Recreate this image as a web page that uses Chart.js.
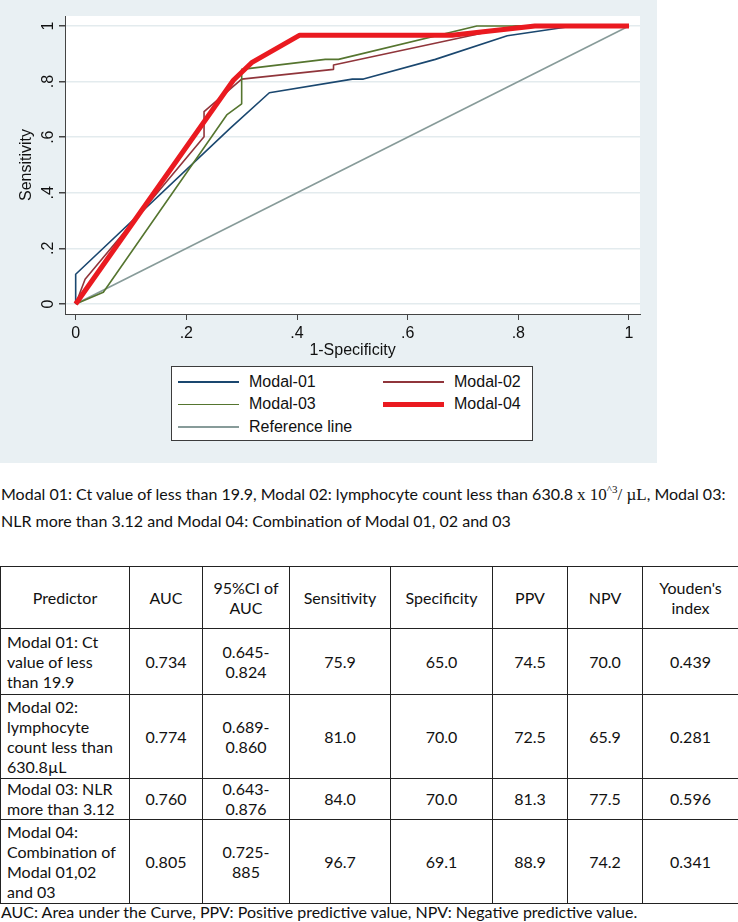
<!DOCTYPE html>
<html>
<head>
<meta charset="utf-8">
<script src="https://cdn.jsdelivr.net/npm/chart.js@4.4.0/dist/chart.umd.min.js"></script>
<style>
  body { margin: 0; background: #fff; width: 738px; height: 922px; position: relative; overflow: hidden; color: #111; }
  #rocChart { position: absolute; left: 0; top: 0; background: #e9f0f3; }
  #legend {
    position: absolute; left: 171px; top: 366px; width: 362px; height: 75px;
    box-sizing: border-box; background: #fff; border: 1px solid #3c3c3c;
    padding-top: 4px; display: grid; grid-template-columns: 205px 1fr; grid-auto-rows: 22.3px;
    font-family: "Liberation Sans", Arial, sans-serif; font-size: 16px;
  }
  .item { display: flex; align-items: center; white-space: nowrap; }
  .swatch { width: 61px; margin: 0 10px 0 6px; }
  .doc { font-family: Lato, "Open Sans", sans-serif; font-size: 16px; }
  #caption { position: absolute; left: 1px; top: 476px; line-height: 26px; white-space: nowrap; }
  .math { font-family: "Liberation Serif", serif; font-size: 17px; }
  .math sup { font-size: 11px; }
  #stats { position: absolute; left: 0; top: 566px; width: 738px; border-collapse: collapse; table-layout: fixed; }
  #stats td, #stats th { border: 1px solid #222; padding: 0 6px; line-height: 20px; text-align: center; font-weight: normal; vertical-align: middle; }
  #stats td:first-child { text-align: left; }
  #footnote { position: absolute; left: 1px; top: 902px; line-height: 20px; white-space: nowrap; }
</style>
</head>
<body>
<canvas id="rocChart" width="657" height="463"></canvas>
<div id="legend"></div>

<div id="caption" class="doc">Modal 01: Ct value of less than 19.9, Modal 02: lymphocyte count less than 630.8 <span class="math">x 10<sup>^3</sup>/ &micro;L</span>, Modal 03:<br>NLR more than 3.12 and Modal 04: Combination of Modal 01, 02 and 03</div>

<table id="stats" class="doc">
  <colgroup>
    <col style="width:129px"><col style="width:73px"><col style="width:87px"><col style="width:101px">
    <col style="width:102px"><col style="width:75px"><col style="width:75px"><col style="width:96px">
  </colgroup>
  <tr style="height:62px"><th>Predictor</th><th>AUC</th><th>95%CI of<br>AUC</th><th>Sensitivity</th><th>Specificity</th><th>PPV</th><th>NPV</th><th>Youden's<br>index</th></tr>
  <tr style="height:66px"><td>Modal 01: Ct<br>value of less<br>than 19.9</td><td>0.734</td><td>0.645-<br>0.824</td><td>75.9</td><td>65.0</td><td>74.5</td><td>70.0</td><td>0.439</td></tr>
  <tr style="height:84px"><td>Modal 02:<br>lymphocyte<br>count less than<br>630.8&micro;L</td><td>0.774</td><td>0.689-<br>0.860</td><td>81.0</td><td>70.0</td><td>72.5</td><td>65.9</td><td>0.281</td></tr>
  <tr style="height:40px"><td>Modal 03: NLR<br>more than 3.12</td><td>0.760</td><td>0.643-<br>0.876</td><td>84.0</td><td>70.0</td><td>81.3</td><td>77.5</td><td>0.596</td></tr>
  <tr style="height:84px"><td>Modal 04:<br>Combination of<br>Modal 01,02<br>and 03</td><td>0.805</td><td>0.725-<br>885</td><td>96.7</td><td>69.1</td><td>88.9</td><td>74.2</td><td>0.341</td></tr>
</table>
<div id="footnote" class="doc">AUC: Area under the Curve, PPV: Positive predictive value, NPV: Negative predictive value.</div>

<script>
// ROC curve points (1-specificity, sensitivity)
const seriesNames = ['Modal-01', 'Modal-02', 'Modal-03', 'Modal-04', 'Reference line'];
const modal01X = [0, 0, 0.279, 0.35, 0.50, 0.52, 0.65, 0.78, 0.90, 1];
const modal01Y = [0, 0.107, 0.632, 0.76, 0.809, 0.809, 0.88, 0.965, 1, 1];
const modal02X = [0, 0.017, 0.232, 0.232, 0.30, 0.466, 0.466, 0.795, 1];
const modal02Y = [0, 0.089, 0.602, 0.692, 0.809, 0.844, 0.86, 1, 1];
const modal03X = [0, 0.05, 0.273, 0.30, 0.30, 0.451, 0.475, 0.725, 1];
const modal03Y = [0, 0.042, 0.68, 0.72, 0.844, 0.88, 0.88, 1, 1];
const modal04X = [0, 0.285, 0.318, 0.405, 0.68, 0.83, 1];
const modal04Y = [0, 0.805, 0.868, 0.967, 0.967, 1, 1];
const refX = [0, 1];
const refY = [0, 1];

const xTicks = [0, 0.2, 0.4, 0.6, 0.8, 1];
const xTickLabels = ['0', '.2', '.4', '.6', '.8', '1'];
const yTicks = [0, 0.2, 0.4, 0.6, 0.8, 1];
const yTickLabels = ['0', '.2', '.4', '.6', '.8', '1'];

const colors = ['#1a476f', '#90353b', '#55752f', '#ea1a20', '#879b99'];
const widths = [1.6, 1.6, 1.6, 5, 1.6];
const drawOrder = [2, 3, 1, 0, 4];

function points(xs, ys) {
  return xs.map((x, i) => ({ x: x, y: ys[i] }));
}
const allX = [modal01X, modal02X, modal03X, modal04X, refX];
const allY = [modal01Y, modal02Y, modal03Y, modal04Y, refY];

const axisFont = { family: '"Liberation Sans", Arial, sans-serif', size: 16 };

// fills the plot region white like Stata's plotregion
const plotBg = {
  id: 'plotBg',
  beforeDraw(chart) {
    const { ctx, chartArea: a } = chart;
    ctx.save();
    ctx.fillStyle = '#ffffff';
    ctx.fillRect(a.left, a.top, a.right - a.left, a.bottom - a.top);
    ctx.restore();
  }
};

// boxed two-column legend built from the chart's own legend items
const htmlLegend = {
  id: 'htmlLegend',
  afterUpdate(chart) {
    const box = document.getElementById('legend');
    box.innerHTML = '';
    const items = Chart.defaults.plugins.legend.labels.generateLabels(chart);
    items.sort((a, b) => a.datasetIndex - b.datasetIndex);
    items.forEach(item => {
      const row = document.createElement('div');
      row.className = 'item';
      const sw = document.createElement('span');
      sw.className = 'swatch';
      sw.style.height = item.lineWidth + 'px';
      sw.style.background = item.strokeStyle;
      const txt = document.createElement('span');
      txt.textContent = item.text;
      row.appendChild(sw);
      row.appendChild(txt);
      box.appendChild(row);
    });
  }
};

new Chart(document.getElementById('rocChart').getContext('2d'), {
  type: 'line',
  data: {
    datasets: seriesNames.map((name, i) => ({
      label: name,
      data: points(allX[i], allY[i]),
      borderColor: colors[i],
      backgroundColor: colors[i],
      borderWidth: widths[i],
      pointRadius: 0,
      tension: 0,
      fill: false,
      borderJoinStyle: 'round',
      order: drawOrder[i]
    }))
  },
  options: {
    responsive: false,
    animation: false,
    layout: { padding: { left: 0, top: 16, right: 17, bottom: 101 } },
    plugins: { legend: { display: false }, tooltip: { enabled: false } },
    scales: {
      x: {
        type: 'linear',
        min: -0.0193,
        max: 1.0199,
        afterBuildTicks: axis => { axis.ticks = xTicks.map(v => ({ value: v })); },
        afterFit: axis => { axis.height = 48; },
        ticks: { autoSkip: false, maxRotation: 0, padding: 4, color: '#111', font: axisFont,
                 callback: (v, i) => xTickLabels[i] },
        grid: { drawOnChartArea: false, tickLength: 6, tickColor: '#444', lineWidth: 1 },
        border: { display: true, color: '#444', width: 1 },
        title: { display: true, text: '1-Specificity', color: '#111', font: axisFont, padding: { top: 0, bottom: 2 } }
      },
      y: {
        type: 'linear',
        min: -0.036,
        max: 1.036,
        afterBuildTicks: axis => { axis.ticks = yTicks.map(v => ({ value: v })); },
        afterFit: axis => { axis.width = 65; },
        ticks: { autoSkip: false, minRotation: 90, maxRotation: 90, crossAlign: 'center', padding: 4,
                 color: '#111', font: axisFont, callback: (v, i) => yTickLabels[i] },
        grid: { color: '#e3ebee', lineWidth: 1.5, tickLength: 6, tickColor: '#444' },
        border: { display: true, color: '#444', width: 1 },
        title: { display: true, text: 'Sensitivity', color: '#111', font: axisFont, padding: { top: 17, bottom: 0 } }
      }
    }
  },
  plugins: [plotBg, htmlLegend]
});
</script>
</body>
</html>
